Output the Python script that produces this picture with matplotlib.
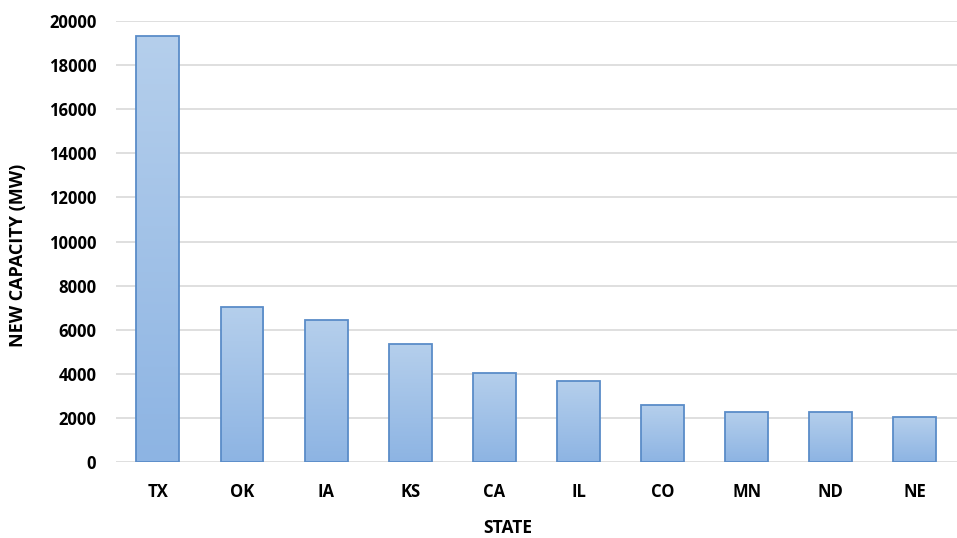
import numpy as np
import matplotlib.pyplot as plt
from matplotlib.colors import LinearSegmentedColormap

# New wind capacity by state
states = ["TX", "OK", "IA", "KS", "CA", "IL", "CO", "MN", "ND", "NE"]
capacity_mw = [19300, 7050, 6430, 5340, 4040, 3660, 2580, 2270, 2270, 2040]

plt.rcParams['font.family'] = ['Open Sans', 'DejaVu Sans']

fig = plt.figure(figsize=(9.57, 5.38), dpi=100)
ax = fig.add_axes([0.121, 0.141, 0.879, 0.82])

x = np.arange(len(states))
bars = ax.bar(x, capacity_mw, width=0.51, color='none',
              edgecolor='#5a8cc8', linewidth=1.3, zorder=3)

# vertical gradient fill, light at top, darker at bottom
cmap = LinearSegmentedColormap.from_list('barfill', ['#8db4e3', '#b5cfec'])
grad = np.linspace(0, 1, 256).reshape(-1, 1)
for b in bars:
    x0, y0 = b.get_x(), b.get_y()
    w, h = b.get_width(), b.get_height()
    im = ax.imshow(grad, extent=[x0, x0 + w, y0, y0 + h], origin='lower',
                   cmap=cmap, aspect='auto', zorder=2)
    im.set_clip_path(b)

ax.set_xlim(-0.5, len(states) - 0.5)
ax.set_ylim(0, 20000)
ax.set_yticks(np.arange(0, 20001, 2000))
ax.set_xticks(x)
ax.set_xticklabels(states)

ax.grid(axis='y', color='#d9d9d9', linewidth=1.2, zorder=0)
ax.set_axisbelow(True)
for s in ax.spines.values():
    s.set_visible(False)
ax.tick_params(length=0, labelsize=12, pad=14)
ax.tick_params(axis='x', pad=15)
for lab in ax.get_xticklabels() + ax.get_yticklabels():
    lab.set_fontweight('bold')

ax.set_xlabel("STATE", fontsize=12.5, fontweight='bold')
ax.set_ylabel("NEW CAPACITY (MW)", fontsize=13, fontweight='bold')
ax.xaxis.set_label_coords(0.4665, -0.128)
ax.yaxis.set_label_coords(-0.105, 0.469)

fig.savefig("out.png", dpi=100)
